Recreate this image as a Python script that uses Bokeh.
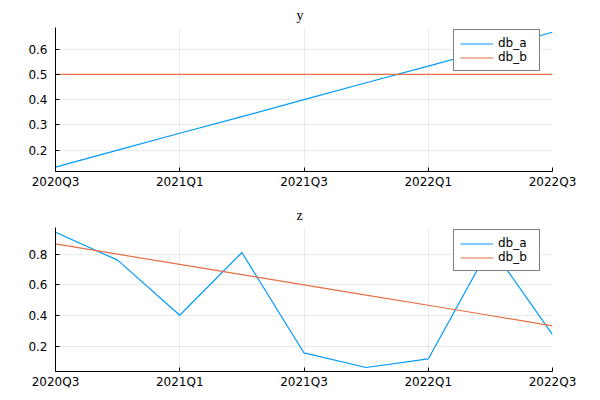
from bokeh.plotting import figure
from bokeh.layouts import column
from bokeh.models import FixedTicker, Range1d, Legend, LegendItem
from bokeh.embed import file_html
from bokeh.resources import INLINE

quarters = ["2020Q3", "2020Q4", "2021Q1", "2021Q2", "2021Q3",
            "2021Q4", "2022Q1", "2022Q2", "2022Q3"]
x_idx = [0, 1, 2, 3, 4, 5, 6, 7, 8]
tick_idx = [0, 2, 4, 6, 8]

y_db_a = [0.133, 0.200, 0.267, 0.333, 0.400, 0.467, 0.533, 0.600, 0.667]
y_db_b = [0.5, 0.5, 0.5, 0.5, 0.5, 0.5, 0.5, 0.5, 0.5]
z_db_a = [0.943, 0.761, 0.402, 0.811, 0.156, 0.061, 0.117, 0.852, 0.276]
z_db_b = [0.867, 0.800, 0.733, 0.667, 0.600, 0.533, 0.467, 0.400, 0.333]

y_ticks = [0.2, 0.3, 0.4, 0.5, 0.6]
z_ticks = [0.2, 0.4, 0.6, 0.8]

BLUE = "#009AFA"
ORANGE = "#E36F47"


def make(title, a, b, yr, yticks):
    p = figure(width=600, height=200, output_backend="svg", toolbar_location=None,
               x_range=Range1d(0, 8), y_range=Range1d(*yr),
               min_border_left=55, min_border_right=48,
               min_border_top=27, min_border_bottom=29)
    p.outline_line_color = None
    p.background_fill_color = "white"
    p.border_fill_color = "white"
    p.title.text = title
    p.title.align = "left"
    p.title.offset = 241
    p.title.text_font = "Liberation Serif"
    p.title.text_font_size = "14px"
    p.title.text_font_style = "normal"
    p.title.text_color = "black"
    p.title.standoff = 10

    ra = p.line(x_idx, a, line_color=BLUE, line_width=1.2)
    rb = p.line(x_idx, b, line_color=ORANGE, line_width=1.2)

    p.xaxis.ticker = FixedTicker(ticks=tick_idx)
    p.xaxis.major_label_overrides = {i: quarters[i] for i in tick_idx}
    p.yaxis.ticker = FixedTicker(ticks=yticks)
    for ax in (p.xaxis, p.yaxis):
        ax.axis_line_color = "black"
        ax.axis_line_width = 1
        ax.major_tick_in = 4
        ax.major_tick_out = 0
        ax.minor_tick_line_color = None
        ax.major_tick_line_color = "black"
        ax.major_label_text_font = "DejaVu Sans"
        ax.major_label_text_font_size = "12px"
        ax.major_label_text_color = "black"
    p.xaxis.major_label_standoff = 3
    p.yaxis.major_label_standoff = 8
    p.xgrid.grid_line_color = "black"
    p.xgrid.grid_line_alpha = 0.08
    p.ygrid.grid_line_color = "black"
    p.ygrid.grid_line_alpha = 0.08

    leg = Legend(items=[LegendItem(label="db_a", renderers=[ra]),
                        LegendItem(label="db_b", renderers=[rb])],
                 location=(398, 100))
    leg.border_line_color = "black"
    leg.border_line_width = 1
    leg.background_fill_color = "white"
    leg.background_fill_alpha = 1
    leg.label_text_font = "DejaVu Sans"
    leg.label_text_font_size = "12px"
    leg.label_text_color = "black"
    leg.glyph_width = 33
    leg.glyph_height = 11
    leg.label_height = 11
    leg.label_width = 35
    leg.label_standoff = 5
    leg.spacing = 0
    leg.padding = 6
    leg.margin = 0
    p.add_layout(leg, "center")
    return p


p1 = make("y", y_db_a, y_db_b, (0.1155, 0.686), y_ticks)
p2 = make("z", z_db_a, z_db_b, (0.035, 0.974), z_ticks)

layout = column(p1, p2, spacing=0)
open("out.html", "w").write(file_html(layout, INLINE))
